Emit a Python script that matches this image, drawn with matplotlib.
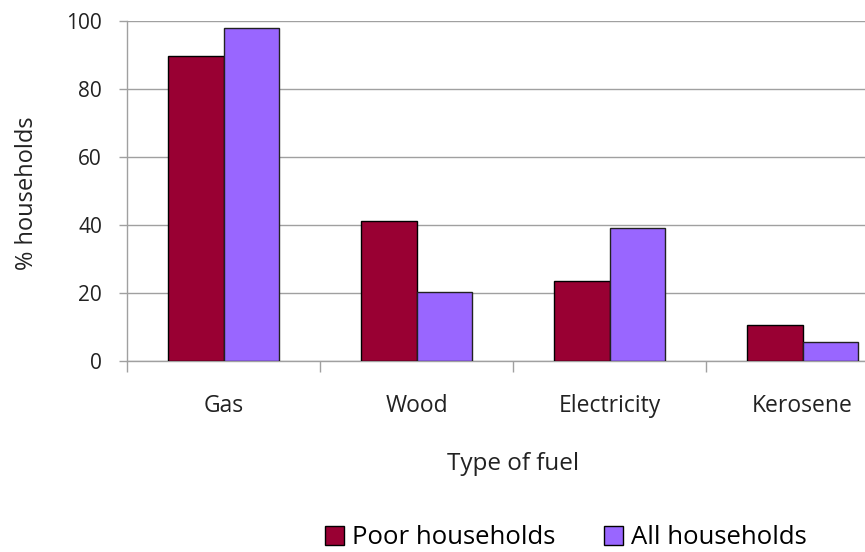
import matplotlib
matplotlib.use("Agg")
import matplotlib.pyplot as plt
import numpy as np
from matplotlib.patches import Patch

categories = ["Gas", "Wood", "Electricity", "Kerosene"]
poor = [89.6, 41.1, 23.6, 10.6]
all_hh = [98.0, 20.2, 39.2, 5.5]
yticks = [0, 20, 40, 60, 80, 100]

plt.rcParams['font.family'] = ['Open Sans', 'DejaVu Sans']

W, H = 865, 552
fig = plt.figure(figsize=(W/100, H/100), dpi=100)
ax = fig.add_axes([127/W, (H-361)/H, 772/W, 340/H])

x = np.arange(len(categories))
bw = 0.29
c_poor = "#990033"
c_all = "#9966FF"
ax.bar(x - bw/2, poor, bw, color=c_poor, edgecolor="black", linewidth=1.0, zorder=3)
ax.bar(x + bw/2, all_hh, bw, color=c_all, edgecolor="#222222", linewidth=1.0, zorder=3)

ax.set_xlim(-0.5, len(categories) - 0.5)
ax.set_ylim(0, 100)
ax.set_yticks(yticks)
ax.set_yticklabels([str(v) for v in yticks], fontsize=15, color="#222222")
ax.yaxis.grid(True, color="#a0a0a0", linewidth=1.0, zorder=0)
ax.tick_params(axis='y', length=6, width=1.0, color="#a0a0a0", pad=12)

# category boundary ticks
ax.set_xticks(np.arange(-0.5, len(categories) - 0.5, 1.0))
ax.set_xticklabels([])
ax.tick_params(axis='x', length=8, width=1.0, color="#a0a0a0")
ax.set_xticks(x, minor=True)
ax.set_xticklabels(categories, minor=True, fontsize=16.5, color="#222222")
ax.tick_params(axis='x', which='minor', length=0, pad=24)

for s in ["top", "right"]:
    ax.spines[s].set_visible(False)
for s in ["left", "bottom"]:
    ax.spines[s].set_color("#a0a0a0")
    ax.spines[s].set_linewidth(1.0)

fig.text(27/W, 1 - 193/H, "% households", rotation=90, fontsize=17,
         ha="center", va="center", color="#222222")
fig.text(513/W, 1 - 464/H, "Type of fuel", fontsize=17.5,
         ha="center", va="center", color="#222222")

handles = [Patch(facecolor=c_poor, edgecolor="black", label="Poor households"),
           Patch(facecolor=c_all, edgecolor="black", label="All households")]
fig.legend(handles=handles, loc="center", bbox_to_anchor=(566/W, 1 - 538/H),
           ncol=2, frameon=False, fontsize=18.5, handlelength=0.72, handleheight=0.72,
           handletextpad=0.32, columnspacing=1.9, borderpad=0, borderaxespad=0)

fig.savefig("out.png", dpi=100)
